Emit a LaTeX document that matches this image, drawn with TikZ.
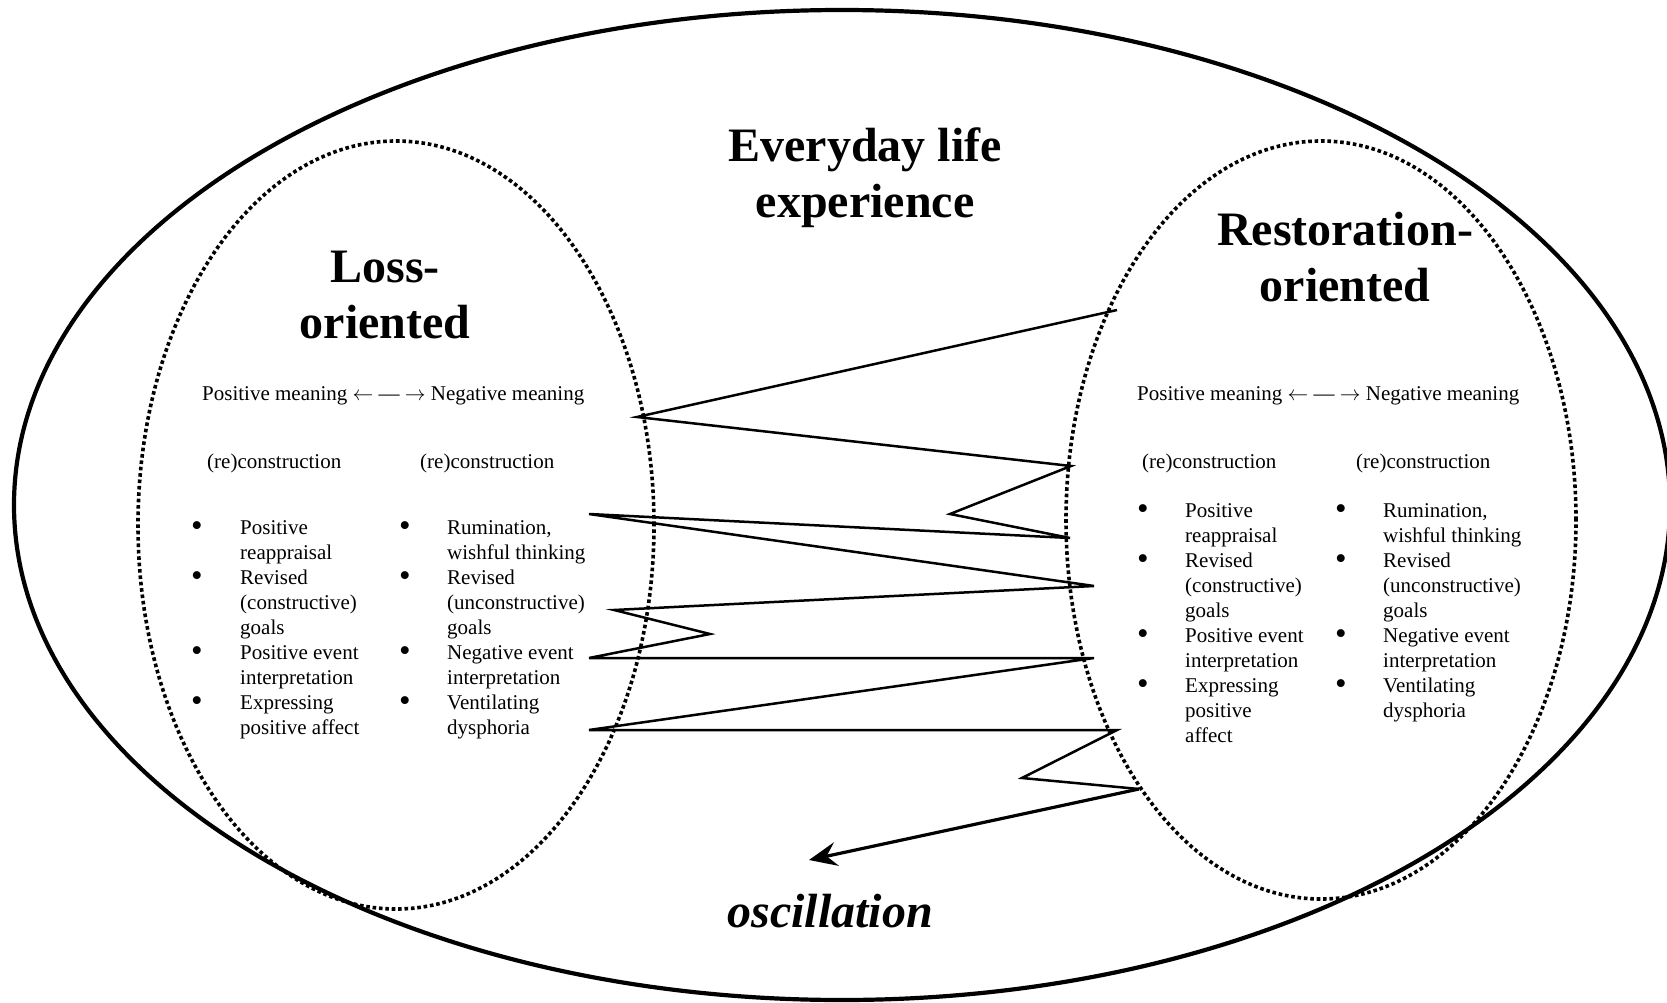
\documentclass[tikz,border=0pt]{standalone}
\usepackage{fontspec}
\setmainfont{Liberation Serif}
\usetikzlibrary{arrows.meta}

\newcommand{\bul}{\raisebox{-2.5pt}{\fontsize{33}{25}\selectfont\textbullet}}
\newcommand{\meaningaxis}{Positive meaning $\leftarrow$ — $\rightarrow$ Negative meaning}
\newcommand{\negitems}{%
  \bul & Rumination,\\ & wishful thinking\\
  \bul & Revised\\ & (unconstructive)\\ & goals\\
  \bul & Negative event\\ & interpretation\\
  \bul & Ventilating\\ & dysphoria}

\tikzset{
  worldline/.style={line width=4.2pt},
  region/.style={line width=3.6pt, dash pattern=on 3.6pt off 2.8pt},
  heading/.style={font=\fontsize{48}{56}\selectfont\bfseries, align=center, inner sep=0pt},
  smalltext/.style={font=\fontsize{21}{25}\selectfont, inner sep=0pt, anchor=base west},
  swing/.style={line width=2.5pt, line join=miter},
}

\begin{document}
\begin{tikzpicture}[x=1pt, y=-1pt]
\clip (0,0) rectangle (1667,1003);
% everyday life and the two orientations
\draw[worldline] (842,505) ellipse [x radius=828pt, y radius=495pt];
\draw[region] (396,525) ellipse [x radius=258pt, y radius=384pt];
\draw[region] (1321,520) ellipse [x radius=255pt, y radius=379pt];

\node[heading] (everyday) at (865,178) {Everyday life\\experience};
\node[heading] (losshead) at (385,295) {Loss-\\oriented};
\node[heading] (resthead) at (1345,257) {Restoration-\\oriented};
\node[heading, font=\fontsize{48}{56}\selectfont\bfseries\itshape, anchor=base] (osc) at (830,927) {oscillation};

% loss-oriented side
\node[smalltext] (lossaxis) at (202,400) {\meaningaxis};
\node[smalltext] (lossposre) at (207,468) {(re)construction};
\node[smalltext] (lossnegre) at (420,468) {(re)construction};
\node[smalltext] (losspos) at (191,534) {\begin{tabular}[t]{@{}p{49pt}@{}l@{}}
  \bul & Positive\\ & reappraisal\\
  \bul & Revised\\ & (constructive)\\ & goals\\
  \bul & Positive event\\ & interpretation\\
  \bul & Expressing\\ & positive affect
  \end{tabular}};
\node[smalltext] (lossneg) at (399,534) {\begin{tabular}[t]{@{}p{48pt}@{}l@{}}\negitems\end{tabular}};

% restoration-oriented side
\node[smalltext] (restaxis) at (1137,400) {\meaningaxis};
\node[smalltext] (restposre) at (1142,468) {(re)construction};
\node[smalltext] (restnegre) at (1356,468) {(re)construction};
\node[smalltext] (restpos) at (1137,517) {\begin{tabular}[t]{@{}p{48pt}@{}l@{}}
  \bul & Positive\\ & reappraisal\\
  \bul & Revised\\ & (constructive)\\ & goals\\
  \bul & Positive event\\ & interpretation\\
  \bul & Expressing\\ & positive\\ & affect
  \end{tabular}};
\node[smalltext] (restneg) at (1335,517) {\begin{tabular}[t]{@{}p{48pt}@{}l@{}}\negitems\end{tabular}};

% oscillation path
\foreach \n/\p in {1/{1117,310}, 2/{637,417}, 3/{1071,466}, 4/{950,514},
    5/{1070,538}, 6/{589,514}, 7/{1094,586}, 8/{614,610}, 9/{710,634},
    10/{589,658}, 11/{1094,658}, 12/{589,730}, 13/{1117,730}, 14/{1022,778},
    15/{1139,789}, 16/{809,860}}
  \coordinate (z\n) at (\p);
\draw[swing] (z1) -- (z2) -- (z3) -- (z4) -- (z5) -- (z6) -- (z7) -- (z8)
  -- (z9) -- (z10) -- (z11) -- (z12) -- (z13) -- (z14) -- (z15);
\draw[swing, line width=3.2pt, -{Stealth[length=28pt, width=24pt, inset=10pt]}] (z15) -- (z16);
\end{tikzpicture}
\end{document}
